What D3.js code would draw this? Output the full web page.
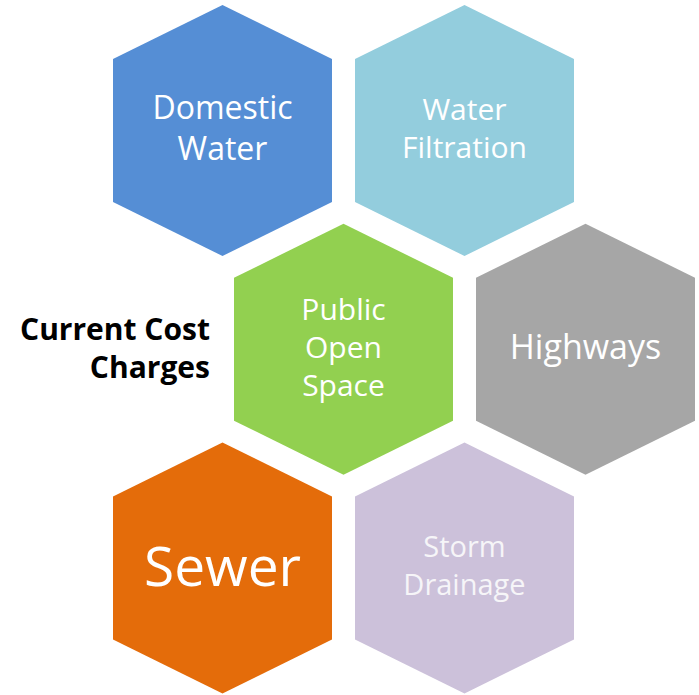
<!DOCTYPE html>
<html lang="en">
<head>
    <meta charset="UTF-8">
    <title>Current Cost Charges</title>
    <style>
        *{
            margin: 0;
            padding: 0;
        }
        body{
            background: #fff;
        }
        #hexChart text{
            font-family: "Open Sans", "Noto Sans", sans-serif;
        }
    </style>
</head>
<body>
<div id="hexChart"></div>
</body>
</html>
<script src="https://cdn.jsdelivr.net/npm/d3@7"></script>
<script>
    // cells, in reading order (row by row)
    var labels = [
        ["Domestic", "Water"],
        ["Water", "Filtration"],
        ["Public", "Open", "Space"],
        ["Highways"],
        ["Sewer"],
        ["Storm", "Drainage"]
    ];
    var title = ["Current Cost", "Charges"];

    // styles kept apart from the data
    var palette = ["#558ed5", "#93cddd", "#92d050", "#a6a6a6", "#e46c0a", "#ccc1da"];
    var fontSize = [32, 30, 30, 34, 55, 29];
    var lineGap = [41, 38, 38, 0, 0, 38];
    var textFill = ["#fff", "#fff", "#fff", "#fff", "#fff", "#f6f5f8"];

    var W = 699, H = 695;
    var hexW = 219, hexH = 251, shoulder = 54;

    var svg = d3.select("#hexChart").append("svg")
        .attr("width", W)
        .attr("height", H);

    /*grid scales: columns shift half a step on the middle row*/
    var xScale = d3.scaleLinear().domain([0, 1]).range([222.5, 464.5]);
    var yScale = d3.scaleLinear().domain([0, 2]).range([130.5, 568]);

    var cells = labels.map(function (d, i) {
        var row = Math.floor(i / 2);
        var col = i % 2 + (row === 1 ? 0.5 : 0);
        return {lines: d, i: i, cx: xScale(col), cy: yScale(row)};
    });

    function hexPath(cx, cy) {
        var hw = hexW / 2, hh = hexH / 2;
        var pts = [
            [cx, cy - hh],
            [cx + hw, cy - hh + shoulder],
            [cx + hw, cy + hh - shoulder],
            [cx, cy + hh],
            [cx - hw, cy + hh - shoulder],
            [cx - hw, cy - hh + shoulder]
        ];
        return d3.line()(pts) + "Z";
    }

    var g = svg.selectAll(".cell")
        .data(cells)
        .enter()
        .append("g")
        .attr("class", "cell");

    g.append("path")
        .attr("d", function (d) { return hexPath(d.cx, d.cy); })
        .attr("fill", function (d) { return palette[d.i]; });

    g.each(function (d) {
        var n = d.lines.length;
        var fs = fontSize[d.i], lh = lineGap[d.i];
        var cap = fs * 0.71;
        var y0 = d.cy - (n - 1) * lh / 2 + cap / 2 - 2;
        d3.select(this).selectAll("text")
            .data(d.lines)
            .enter()
            .append("text")
            .attr("x", d.cx)
            .attr("y", function (t, k) { return y0 + k * lh; })
            .attr("text-anchor", "middle")
            .style("font-size", fs + "px")
            .style("fill", textFill[d.i])
            .text(function (t) { return t; });
    });

    /*title at the left*/
    svg.append("g")
        .selectAll("text")
        .data(title)
        .enter()
        .append("text")
        .attr("x", 210)
        .attr("y", function (t, k) { return 340 + k * 38; })
        .attr("text-anchor", "end")
        .style("font-size", "30px")
        .style("font-weight", "bold")
        .style("fill", "#000")
        .text(function (t) { return t; });
</script>
